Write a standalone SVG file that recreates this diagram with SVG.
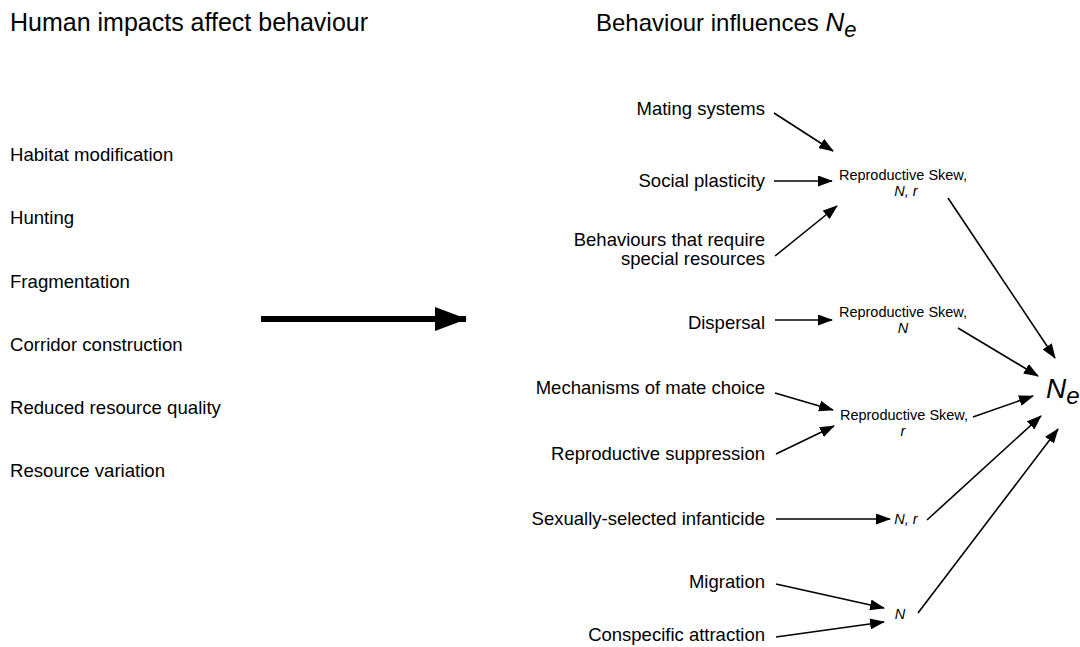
<svg xmlns="http://www.w3.org/2000/svg" width="1080" height="647" viewBox="0 0 1080 647">
<style>
text{font-family:"Liberation Sans",Arial,sans-serif;fill:#000}
.item{font-size:18.6px}
.r{text-anchor:end;font-size:18.5px}
.sm{font-size:14.5px;text-anchor:middle}
.i{font-style:italic}
.c line{stroke:#000;stroke-width:1.6;fill:none}
</style>
<defs>
<marker id="ah" markerUnits="userSpaceOnUse" markerWidth="15" markerHeight="11" refX="14" refY="5.5" orient="auto">
<path d="M0,0 L15,5.5 L0,11 Z" fill="#000"/>
</marker>
<marker id="big" markerUnits="userSpaceOnUse" markerWidth="32" markerHeight="24" refX="31" refY="12" orient="auto">
<path d="M0,0 L32,12 L0,24 Z" fill="#000"/>
</marker>
</defs>
<rect width="1080" height="647" fill="#fff"/>
<text x="10" y="31" font-size="25">Human impacts affect behaviour</text>
<text x="596" y="31" font-size="24">Behaviour influences <tspan class="i" font-size="26">N</tspan><tspan class="i" font-size="22" dy="6">e</tspan></text>
<g id="left-list">
<text class="item" x="10" y="161">Habitat modification</text>
<text class="item" x="10" y="224">Hunting</text>
<text class="item" x="10" y="288">Fragmentation</text>
<text class="item" x="10" y="351">Corridor construction</text>
<text class="item" x="10" y="414">Reduced resource quality</text>
<text class="item" x="10" y="477">Resource variation</text>
</g>
<g id="mating"><text class="r" x="765" y="115">Mating systems</text></g>
<g id="social"><text class="r" x="765" y="187">Social plasticity</text></g>
<g id="special"><text class="r" x="765" y="246">Behaviours that require</text><text class="r" x="765" y="265">special resources</text></g>
<g id="dispersal"><text class="r" x="765" y="329">Dispersal</text></g>
<g id="mate-choice"><text class="r" x="765" y="394">Mechanisms of mate choice</text></g>
<g id="suppression"><text class="r" x="765" y="460">Reproductive suppression</text></g>
<g id="infanticide"><text class="r" x="765" y="525">Sexually-selected infanticide</text></g>
<g id="migration"><text class="r" x="765" y="588">Migration</text></g>
<g id="conspecific"><text class="r" x="765" y="641">Conspecific attraction</text></g>
<g id="skew1"><text class="sm" x="903" y="180">Reproductive Skew,</text><text class="sm i" x="906" y="196">N, r</text></g>
<g id="skew2"><text class="sm" x="903" y="317">Reproductive Skew,</text><text class="sm i" x="903" y="333">N</text></g>
<g id="skew3"><text class="sm" x="904" y="420">Reproductive Skew,</text><text class="sm i" x="903" y="436">r</text></g>
<g id="nr"><text class="sm i" x="906" y="524">N, r</text></g>
<g id="n"><text class="sm i" x="900" y="619">N</text></g>
<g id="Ne"><text x="1046" y="398" font-size="28" class="i">N<tspan font-size="24" dy="6">e</tspan></text></g>
<g id="connectors" class="c">
<line x1="261" y1="319" x2="466" y2="319" style="stroke-width:6" marker-end="url(#big)"/>
<line x1="774" y1="113" x2="833" y2="151" marker-end="url(#ah)"/>
<line x1="774" y1="181" x2="832" y2="181" marker-end="url(#ah)"/>
<line x1="775" y1="256" x2="837" y2="206" marker-end="url(#ah)"/>
<line x1="948" y1="198" x2="1055" y2="358" marker-end="url(#ah)"/>
<line x1="775" y1="320" x2="832" y2="320" marker-end="url(#ah)"/>
<line x1="958" y1="328" x2="1038" y2="376" marker-end="url(#ah)"/>
<line x1="775" y1="393" x2="833" y2="410" marker-end="url(#ah)"/>
<line x1="776" y1="454" x2="834" y2="426" marker-end="url(#ah)"/>
<line x1="973" y1="417" x2="1033" y2="396" marker-end="url(#ah)"/>
<line x1="776" y1="519" x2="890" y2="519" marker-end="url(#ah)"/>
<line x1="927" y1="520" x2="1041" y2="416" marker-end="url(#ah)"/>
<line x1="776" y1="584" x2="884" y2="608" marker-end="url(#ah)"/>
<line x1="776" y1="637" x2="884" y2="622" marker-end="url(#ah)"/>
<line x1="918" y1="613" x2="1058" y2="429" marker-end="url(#ah)"/>
</g>
</svg>
